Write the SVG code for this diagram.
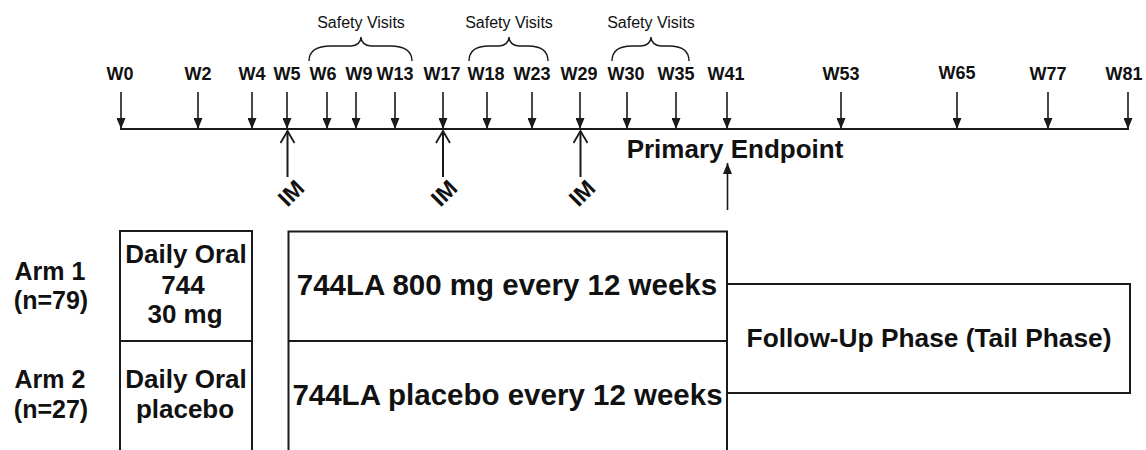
<svg xmlns="http://www.w3.org/2000/svg" width="1146" height="450" viewBox="0 0 1146 450">
<style>
text{font-family:"Liberation Sans",Arial,sans-serif;fill:#111}
.wk{font-size:18px;font-weight:bold;text-anchor:middle}
.sv{font-size:16px;text-anchor:middle}
.b{font-weight:bold;text-anchor:middle}
.ln{stroke:#1a1a1a;stroke-width:2;fill:none}
.tk{stroke:#1a1a1a;stroke-width:1.6;fill:none}
.br{stroke:#1a1a1a;stroke-width:1.4;fill:none}
.box{stroke:#1a1a1a;stroke-width:2;fill:#fff}
</style>
<defs>
<marker id="tri" viewBox="0 0 11 9" refX="11" refY="4.5" markerWidth="11" markerHeight="9" orient="auto" markerUnits="userSpaceOnUse">
<path d="M0,0 L11,4.5 L0,9 z" fill="#1a1a1a"/>
</marker>
<marker id="open" viewBox="0 0 14 16" refX="13" refY="8" markerWidth="14" markerHeight="16" orient="auto" markerUnits="userSpaceOnUse">
<path d="M1,1 L13,8 L1,15" fill="none" stroke="#1a1a1a" stroke-width="1.8"/>
</marker>
</defs>
<rect width="1146" height="450" fill="#fff"/>

<g id="timeline">
<line class="ln" x1="120" y1="129" x2="1129" y2="129"/>
<text class="wk" x="120" y="80">W0</text>
<text class="wk" x="198" y="80">W2</text>
<text class="wk" x="252" y="80">W4</text>
<text class="wk" x="287" y="80">W5</text>
<text class="wk" x="323" y="80">W6</text>
<text class="wk" x="359" y="80">W9</text>
<text class="wk" x="395" y="80">W13</text>
<text class="wk" x="442" y="80">W17</text>
<text class="wk" x="486" y="80">W18</text>
<text class="wk" x="532" y="80">W23</text>
<text class="wk" x="579" y="80">W29</text>
<text class="wk" x="626" y="80">W30</text>
<text class="wk" x="676" y="80">W35</text>
<text class="wk" x="726" y="80">W41</text>
<text class="wk" x="841" y="80">W53</text>
<text class="wk" x="957" y="79">W65</text>
<text class="wk" x="1048" y="80">W77</text>
<text class="wk" x="1124" y="80">W81</text>
</g>

<g id="safety-visits-1">
<text class="sv" x="361" y="28">Safety Visits</text>
<path class="br" d="M309 61 C309 51 316 46 331 46 L351 46 C357 46 361 42 361 37 C361 42 365 46 371 46 L390 46 C405 46 412 51 412 61"/>
</g>
<g id="safety-visits-2">
<text class="sv" x="509" y="28">Safety Visits</text>
<path class="br" d="M469 61 C469 51 476 46 489 46 L499 46 C505 46 509 42 509 37 C509 42 513 46 519 46 L528 46 C541 46 548 51 548 61"/>
</g>
<g id="safety-visits-3">
<text class="sv" x="651" y="28">Safety Visits</text>
<path class="br" d="M612 61 C612 51 619 46 632 46 L641 46 C647 46 651 42 651 37 C651 42 655 46 661 46 L669 46 C682 46 689 51 689 61"/>
</g>

<g id="im-1"><text class="b" font-size="23" transform="translate(291 193) rotate(-45)" y="8">IM</text></g>
<g id="im-2"><text class="b" font-size="23" transform="translate(444 193) rotate(-45)" y="8">IM</text></g>
<g id="im-3"><text class="b" font-size="23" transform="translate(582 193) rotate(-45)" y="8">IM</text></g>

<g id="primary-endpoint">
<text class="b" font-size="26" x="735" y="158">Primary Endpoint</text>
</g>

<g id="arm1-label">
<text class="b" font-size="25" x="50" y="280">Arm 1</text>
<text class="b" font-size="25" x="51" y="309">(n=79)</text>
</g>
<g id="arm2-label">
<text class="b" font-size="25" x="50" y="388">Arm 2</text>
<text class="b" font-size="25" x="51" y="418">(n=27)</text>
</g>

<g id="oral-box">
<rect class="box" x="120" y="231" width="132" height="240"/>
<line class="ln" x1="120" y1="341" x2="252" y2="341"/>
<text class="b" font-size="26" x="186" y="263">Daily Oral</text>
<text class="b" font-size="26" x="183" y="294">744</text>
<text class="b" font-size="26" x="185" y="323">30 mg</text>
<text class="b" font-size="26" x="186" y="388">Daily Oral</text>
<text class="b" font-size="26" x="185" y="418">placebo</text>
</g>

<g id="la-box">
<rect class="box" x="288.5" y="231.5" width="438.5" height="240"/>
<line class="ln" x1="288.5" y1="341" x2="727" y2="341"/>
<text class="b" font-size="29.5" x="507" y="295">744LA 800 mg every 12 weeks</text>
<text class="b" font-size="29.5" x="507.5" y="405">744LA placebo every 12 weeks</text>
</g>

<g id="follow-up">
<path class="ln" d="M727 284 L1130 284 L1130 393 L727 393"/>
<text class="b" font-size="26.3" x="929" y="347">Follow-Up Phase (Tail Phase)</text>
</g>

<g id="connectors">
<g class="tk" marker-end="url(#tri)">
<line x1="121" y1="92" x2="121" y2="129"/>
<line x1="198" y1="92" x2="198" y2="129"/>
<line x1="252" y1="92" x2="252" y2="129"/>
<line x1="287" y1="92" x2="287" y2="129"/>
<line x1="327" y1="92" x2="327" y2="129"/>
<line x1="356" y1="92" x2="356" y2="129"/>
<line x1="395" y1="92" x2="395" y2="129"/>
<line x1="443" y1="92" x2="443" y2="129"/>
<line x1="487" y1="92" x2="487" y2="129"/>
<line x1="532" y1="92" x2="532" y2="129"/>
<line x1="580" y1="92" x2="580" y2="129"/>
<line x1="627" y1="92" x2="627" y2="129"/>
<line x1="676" y1="92" x2="676" y2="129"/>
<line x1="727" y1="92" x2="727" y2="129"/>
<line x1="841" y1="92" x2="841" y2="129"/>
<line x1="957" y1="92" x2="957" y2="129"/>
<line x1="1048" y1="92" x2="1048" y2="129"/>
<line x1="1128" y1="92" x2="1128" y2="129"/>
</g>
<g class="ln" marker-end="url(#open)">
<line x1="287.5" y1="177" x2="287.5" y2="131"/>
<line x1="443" y1="177" x2="443" y2="131"/>
<line x1="580.5" y1="177" x2="580.5" y2="131"/>
</g>
<line class="tk" x1="727.5" y1="210" x2="727.5" y2="163" marker-end="url(#tri)"/>
</g>
</svg>
